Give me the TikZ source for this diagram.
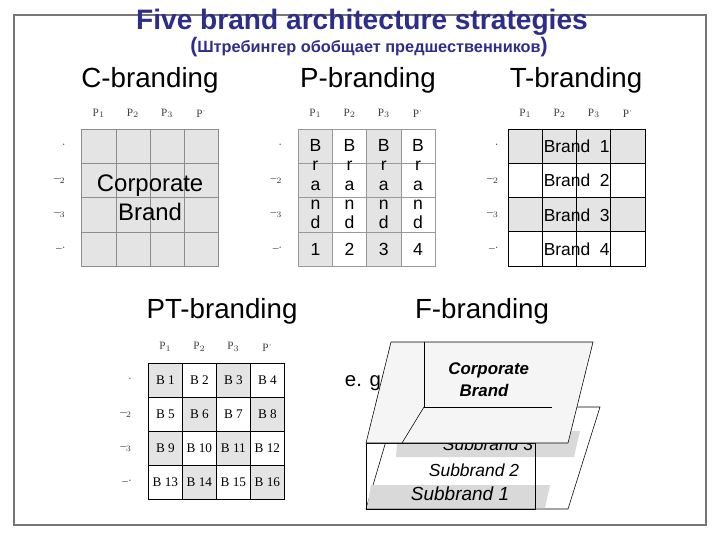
\documentclass[tikz,border=0pt]{standalone}
\usepackage{fontspec}
\setmainfont{Liberation Sans}
\newfontfamily\serifcell{Liberation Serif}
\usepackage{xcolor}
\usetikzlibrary{positioning}

\definecolor{titleblue}{RGB}{46,46,138}
\definecolor{cellgray}{RGB}{228,228,228}
\definecolor{framegray}{RGB}{118,118,118}

\begin{document}
\begin{tikzpicture}[x=0.025cm,y=-0.025cm,
  head/.style={font=\fontsize{19.7}{23}\selectfont},
  cell/.style={draw,minimum size=0.855cm,inner sep=0pt,outer sep=0pt},
  ccell/.style={cell,draw=black!45,fill=cellgray},
  pcell/.style={cell,draw=black!40},
  tcell/.style={cell,draw=black,line width=0.7pt},
  ptcell/.style={cell,draw=black,line width=0.8pt,font=\serifcell\fontsize{9.4}{11}\selectfont},
  shade1/.style={fill=cellgray},
  shade0/.style={fill=white},
  gridlab/.style={font=\serifcell\fontsize{8}{9}\selectfont,text=black!75,inner sep=1pt},
  corptxt/.style={font=\fontsize{17}{20.6}\selectfont,align=center},
  letters/.style={align=center,font=\fontsize{12.5}{13.6}\selectfont},
  brandrow/.style={font=\fontsize{12.4}{14}\selectfont},
  subtxt/.style={font=\itshape\fontsize{12.4}{14}\selectfont},
  sheet/.style={draw,fill=black!4},
  band/.style={fill=black!15}
]
\useasboundingbox (0,0) rectangle (720,540);
\draw[framegray,line width=1.4pt] (14,15) rectangle (706,525);

% titles
\node[font=\bfseries\fontsize{20}{24}\selectfont,text=titleblue] (title) at (362,22) {Five brand architecture strategies};
\node[font=\bfseries\fontsize{11.6}{14}\selectfont,text=titleblue] (subtitle) at (369,47)
  {{\fontsize{15}{16}\selectfont(}Штребингер обобщает предшественников{\fontsize{15}{16}\selectfont)}};
\node[head] (hc) at (150,80) {C-branding};
\node[head] (hp) at (368,80) {P-branding};
\node[head] (ht) at (576,80) {T-branding};
\node[head] (hpt) at (222,311) {PT-branding};
\node[head] (hf) at (482,311) {F-branding};

% C-branding
\foreach \i in {1,...,4}
  \foreach \j in {1,...,4}
    \node[ccell] (c-\i-\j) at ({98.8+34.2*(\j-1)},{146.4+34.2*(\i-1)}) {};
\node[corptxt] (cb) at (c-2-2.south east) {Corporate\\Brand};

% P-branding
\foreach \i in {1,...,4}
  \foreach \j in {1,...,4}{
    \pgfmathtruncatemacro\k{mod(\j,2)}
    \node[pcell,shade\k] (p-\i-\j) at ({315.4+34.2*(\j-1)},{146.4+34.2*(\i-1)}) {};
  }
\foreach \j in {1,...,4}{
  \node[letters] (pl-\j) at ([yshift=0.34cm]p-2-\j.south) {B\\r\\a\\n\\d};
  \node[letters] (pn-\j) at (p-4-\j) {\j};
}

% T-branding
\foreach \i in {1,...,4}
  \foreach \j in {1,...,4}{
    \pgfmathtruncatemacro\k{mod(\i,2)}
    \node[tcell,shade\k] (t-\i-\j) at ({525.4+34.2*(\j-1)},{146.4+34.2*(\i-1)}) {};
  }
\foreach \i in {1,...,4}
  \node[brandrow] (tb-\i) at (t-\i-2.east) {Brand\ \ \i};

% PT-branding
\foreach \i in {1,...,4}
  \foreach \j in {1,...,4}{
    \pgfmathtruncatemacro\k{1-mod(\i+\j,2)}
    \pgfmathtruncatemacro\n{4*(\i-1)+\j}
    \node[ptcell,shade\k] (pt-\i-\j) at ({165.4+34*(\j-1)},{380.3+34*(\i-1)}) {B \n};
  }

% axis labels
\foreach \g/\gap in {c/0.36cm,p/0.36cm,t/0.2cm,pt/0.37cm}{
  \foreach \j/\lab in {1/{P$_1$},2/{P$_2$},3/{P$_3$},4/{P$^{\cdot}$}}
    \node[gridlab,above=0.25cm of \g-1-\j] (\g-col-\j) {\lab};
  \foreach \i/\lab in {1/{\textperiodcentered},2/{\textendash$_2$},3/{\textendash$_3$},4/{\textendash\textperiodcentered}}
    \node[gridlab,left=\gap of \g-\i-1] (\g-row-\i) {\lab};
}

% F-branding
\node[font=\fontsize{14.5}{16}\selectfont,anchor=west] (eg) at (340,383) {e. g.:};
\coordinate (low-bl) at (366,509);
\coordinate (low-br) at (568,509);
\coordinate (low-tr) at (600,407);
\coordinate (low-tl) at (396,407);
\draw[fill=white] (low-bl) -- (low-br) -- (low-tr) -- (low-tl) -- cycle;
\fill[band] (371,485) -- (550,485) -- (545,508) -- (367,508) -- cycle;
\fill[band] (398,431) -- (580,431) -- (574,457) -- (396,457) -- cycle;
\node[subtxt] (sb3) at (488,444) {Subbrand 3};
\node[subtxt] (sb2) at (474,470) {Subbrand 2};
\node[subtxt,font=\itshape\fontsize{13.5}{15}\selectfont] (sb1) at (460,494) {Subbrand 1};
\draw (366,443) rectangle (535,509);
\coordinate (top-tl) at (391,342);
\coordinate (top-tr) at (593,342);
\coordinate (top-br) at (568,443);
\coordinate (top-bl) at (366,443);
\draw[sheet] (top-tl) -- (top-tr) -- (top-br) -- (top-bl) -- cycle;
\coordinate (back) at (424,407);
\draw (424,342) -- (back) -- (552,407);
\draw (back) -- (402,443);
\node[font=\bfseries\itshape\fontsize{12}{15.4}\selectfont,align=left] (corp) at (488.7,380)
  {Corporate\\\hspace*{8pt}Brand};
\end{tikzpicture}
\end{document}
